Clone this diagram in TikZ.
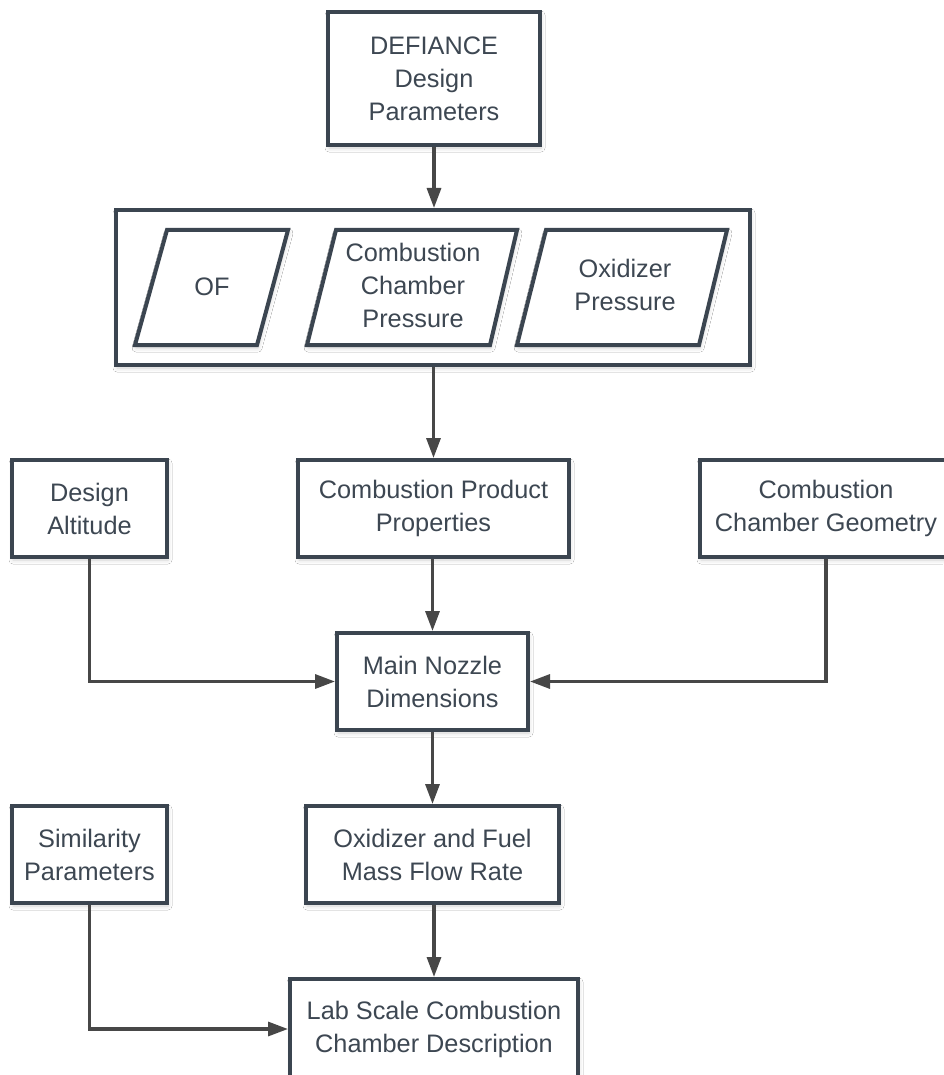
\documentclass[tikz,border=0pt]{standalone}
\usepackage{fontspec}
\setmainfont{Liberation Sans}
\usetikzlibrary{arrows.meta,shadows.blur}
\definecolor{edgec}{HTML}{3B4550}
\definecolor{txtc}{HTML}{3D4752}
\definecolor{arrc}{HTML}{474747}
\begin{document}
\begin{tikzpicture}[x=1pt,y=-1pt,
  shad/.style={blur shadow={shadow xshift=1pt, shadow yshift=-3pt, shadow blur radius=4pt, shadow opacity=18}},
  box/.style={draw=edgec, line width=4pt, fill=white, text=txtc, align=center,
    font=\fontsize{25.3}{33}\selectfont, inner sep=0pt, shad},
  para/.style={draw=edgec, line width=4pt, fill=white, line join=miter, shad},
  ptext/.style={text=txtc, align=center, font=\fontsize{25.3}{33}\selectfont, inner sep=0pt},
  conn/.style={draw=arrc, line width=3.2pt, -{Triangle[length=20pt,width=14pt]}}
]
\fill[white] (0,0) rectangle (943,1075);
\useasboundingbox (0,0) rectangle (943,1075);

% top box
\node[box, minimum width=212pt, minimum height=133pt] (def) at (434,78.5) {DEFIANCE\\Design\\Parameters};

% container
\node[box, minimum width=634pt, minimum height=155pt] (cont) at (433,287.5) {};

% parallelograms
\coordinate (p1a) at (167,230); \coordinate (p1b) at (288,230);
\coordinate (p1c) at (257,345); \coordinate (p1d) at (135,345);
\coordinate (p2a) at (336,230); \coordinate (p2b) at (517,230);
\coordinate (p2c) at (490,345); \coordinate (p2d) at (307,345);
\coordinate (p3a) at (546,230); \coordinate (p3b) at (727,230);
\coordinate (p3c) at (699,345); \coordinate (p3d) at (517,345);
\draw[para] (p1a) -- (p1b) -- (p1c) -- (p1d) -- cycle;
\draw[para] (p2a) -- (p2b) -- (p2c) -- (p2d) -- cycle;
\draw[para] (p3a) -- (p3b) -- (p3c) -- (p3d) -- cycle;
\node[ptext] (of) at (212,287) {OF};
\node[ptext] (ccp) at (413,285) {Combustion\\Chamber\\Pressure};
\node[ptext] (oxp) at (625,285) {Oxidizer\\Pressure};

% row 3
\node[box, minimum width=155pt, minimum height=97pt] (da) at (89.5,508.5) {Design\\Altitude};
\node[box, minimum width=271pt, minimum height=97pt] (cpp) at (433.5,508.5) {Combustion Product\\Properties};
\node[box, minimum width=252pt, minimum height=97pt] (ccg) at (826,508.5) {Combustion\\Chamber Geometry};

% main nozzle
\node[box, minimum width=191pt, minimum height=97pt] (mnd) at (432.5,681.5) {Main Nozzle\\Dimensions};

% row 5
\node[box, minimum width=155pt, minimum height=97pt] (sp) at (89.5,854.5) {Similarity\\Parameters};
\node[box, minimum width=253pt, minimum height=97pt] (ofm) at (432.5,854.5) {Oxidizer and Fuel\\Mass Flow Rate};

% lab scale
\node[box, minimum width=288pt, minimum height=100pt] (lab) at (434,1029) {Lab Scale Combustion\\Chamber Description};

% connectors
\draw[conn] (def.south) -- (def.south |- cont.north);
\draw[conn] (cont.south -| cpp.north) -- (cpp.north);
\draw[conn] (cpp.south -| mnd.north) -- (mnd.north);
\draw[conn] (da.south) |- (mnd.west);
\draw[conn] (ccg.south) |- (mnd.east);
\draw[conn] (mnd.south) -- (ofm.north);
\draw[conn] (ofm.south -| lab.north) -- (lab.north);
\draw[conn] (sp.south) |- (lab.west);
\end{tikzpicture}
\end{document}
